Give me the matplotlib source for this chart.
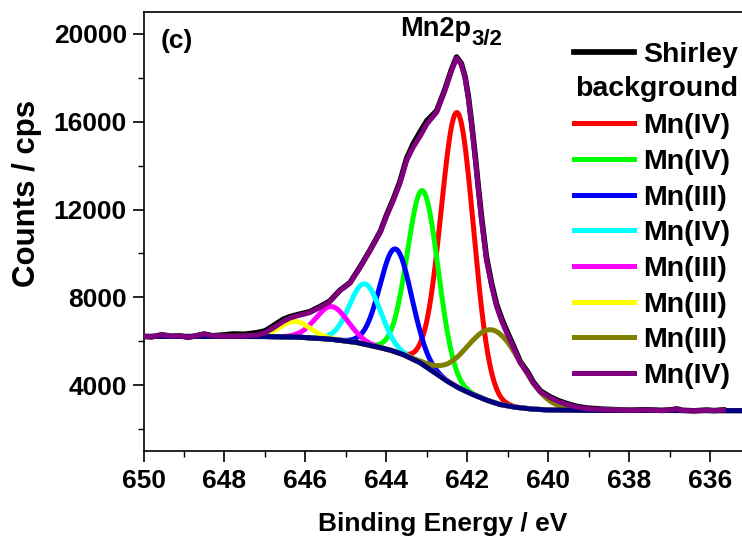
import numpy as np
import matplotlib
matplotlib.use("Agg")
import matplotlib.pyplot as plt
from matplotlib.lines import Line2D

plt.rcParams['font.family'] = ['Liberation Sans', 'DejaVu Sans']
plt.rcParams['font.weight'] = 'bold'

# ---------------- data ----------------
# Measured spectrum (black)
raw_energy = [650.0, 649.8, 649.55, 649.3, 649.1, 648.9, 648.75, 648.5, 648.3, 648.0,
              647.8, 647.5, 647.2, 647.0, 646.8, 646.55, 646.38, 646.2, 645.9, 645.6,
              645.4, 645.15, 644.9, 644.64, 644.4, 644.15, 644.0, 643.83, 643.67, 643.5,
              643.34, 643.15, 643.0, 642.76, 642.56, 642.4, 642.27, 642.15, 642.06, 641.98,
              641.9, 641.8, 641.73, 641.65, 641.53, 641.4, 641.28, 641.15, 641.03, 640.85,
              640.7, 640.5, 640.38, 640.2, 639.96, 639.75, 639.55, 639.3, 639.06, 638.7,
              638.32, 638.0, 637.6, 637.2, 636.95, 636.83, 636.7, 636.4, 636.1, 635.9, 635.68]
raw_counts = [6220, 6200, 6290, 6230, 6250, 6180, 6230, 6330, 6250, 6290,
              6330, 6320, 6390, 6470, 6700, 7000, 7120, 7210, 7340, 7620,
              7830, 8320, 8670, 9420, 10170, 11010, 11740, 12480, 13260, 14340,
              14990, 15600, 16050, 16500, 17460, 18350, 18950, 18650, 18060, 17180,
              15980, 14300, 13000, 11620, 9820, 8600, 7680, 7010, 6480, 5730,
              5090, 4560, 4160, 3740, 3470, 3290, 3160, 3030, 2960, 2910,
              2880, 2860, 2880, 2850, 2880, 2920, 2855, 2830, 2865, 2840, 2870]

# Fitted envelope (purple)
env_energy = raw_energy
env_counts = [6220, 6200, 6290, 6230, 6250, 6180, 6230, 6330, 6250, 6230,
              6230, 6240, 6280, 6380, 6600, 6900, 7060, 7160, 7300, 7580,
              7800, 8300, 8650, 9400, 10150, 10980, 11700, 12420, 13180, 14240,
              14840, 15400, 15900, 16430, 17410, 18300, 18900, 18600, 18010, 17100,
              15900, 14200, 12900, 11500, 9700, 8500, 7580, 6900, 6380, 5650,
              5020, 4500, 4110, 3700, 3430, 3250, 3125, 3000, 2930, 2890,
              2866, 2850, 2870, 2840, 2880, 2920, 2850, 2830, 2860, 2840, 2870]

# Shirley background (navy)
bg_energy = [650.0, 648.0, 647.0, 646.2, 645.4, 644.75, 644.25, 643.9, 643.6, 643.17,
             642.85, 642.5, 642.2, 641.85, 641.5, 641.2, 640.8, 640.4, 640.0, 639.0, 635.2]
bg_counts = [6220, 6220, 6215, 6190, 6100, 5950, 5750, 5590, 5400, 5020,
             4620, 4180, 3860, 3560, 3300, 3120, 2990, 2910, 2870, 2850, 2840]

# Fitted component peaks (above the background)
peak_labels = ['Mn(IV)', 'Mn(IV)', 'Mn(III)', 'Mn(IV)', 'Mn(III)', 'Mn(III)', 'Mn(III)']
peak_center = [642.25, 643.10, 643.77, 644.53, 645.35, 646.26, 641.35]
peak_height = [12500, 7920, 4690, 2750, 1490, 710, 3290]
peak_sigma = [0.40, 0.38, 0.39, 0.38, 0.40, 0.38, 0.68]

envelope_label = 'Mn(IV)'
legend_first = ['Shirley', 'background']
x_ticks = [650, 648, 646, 644, 642, 640, 638, 636]
y_ticks = [4000, 8000, 12000, 16000, 20000]

# ---------------- styles ----------------
peak_colors = ['#ff0000', '#00ff00', '#0000ff', '#00ffff', '#ff00ff', '#ffff00', '#808000']
env_color = '#800080'
bg_color = '#000080'
LW = 3.6

W, H = 742, 540
fig = plt.figure(figsize=(W / 100, H / 100), dpi=100)
ax_left, ax_right, ax_top, ax_bot = 143.5, 742, 12, 451
ax = fig.add_axes([ax_left / W, (H - ax_bot) / H, (ax_right - ax_left) / W, (ax_bot - ax_top) / H])

grid = np.linspace(650, 635.2, 800)
bg_grid = np.interp(grid, bg_energy[::-1], bg_counts[::-1])

ax.plot(raw_energy, raw_counts, color='black', lw=LW + 0.4, zorder=2, solid_joinstyle='round')
for c, h, s, col in zip(peak_center, peak_height, peak_sigma, peak_colors):
    comp = bg_grid + h * np.exp(-0.5 * ((grid - c) / s) ** 2)
    ax.plot(grid, comp, color=col, lw=LW, zorder=3)
ax.plot(bg_energy, bg_counts, color=bg_color, lw=LW, zorder=4, solid_capstyle='round')
ax.plot(env_energy, env_counts, color=env_color, lw=LW, zorder=5, solid_joinstyle='round')

ax.set_xlim(650, 635.22)
ax.set_ylim(1000, 21000)
ax.set_xticks(x_ticks)
ax.set_yticks(y_ticks)
ax.set_xticks(np.arange(649, 635, -2), minor=True)
ax.set_yticks(np.arange(2000, 21000, 4000), minor=True)
ax.tick_params(which='major', direction='out', length=8, width=1.2, labelsize=19, pad=4)
ax.tick_params(which='minor', direction='out', length=4, width=1.0)
ax.tick_params(axis='x', pad=5)
for lab in ax.get_xticklabels() + ax.get_yticklabels():
    lab.set_fontweight('bold')
for sp in ['left', 'bottom', 'top']:
    ax.spines[sp].set_linewidth(1.2)
ax.spines['right'].set_visible(False)

ax.set_xlabel('Binding Energy / eV', fontsize=19, fontweight='bold', labelpad=14)
ax.set_ylabel('Counts / cps', fontsize=22.5, fontweight='bold')
ax.yaxis.set_label_coords((42 - ax_left) / (ax_right - ax_left), (ax_bot - 193) / (ax_bot - ax_top))

# annotations
fig.text(161 / W, 1 - 41 / H, '(c)', fontsize=19, fontweight='bold', va='center', ha='left')
t_main = fig.text(400 / W, 1 - 36 / H, 'Mn2p', fontsize=19.5, fontweight='bold',
                  va='baseline', ha='left')
fig.canvas.draw()
bb = t_main.get_window_extent(renderer=fig.canvas.get_renderer())
fig.text(bb.x1 / W + 0.5 / W, 1 - 45 / H, '3/2', fontsize=16, fontweight='bold',
         va='baseline', ha='left')

# legend
FS = 20.5
handles = [Line2D([], [], color='black', lw=LW + 0.5), Line2D([], [], color='none', lw=0)]
labels = [legend_first[0], 'Mn(IV)']
for col, lab in zip(peak_colors, peak_labels):
    handles.append(Line2D([], [], color=col, lw=LW))
    labels.append(lab)
handles.append(Line2D([], [], color=env_color, lw=LW))
labels.append(envelope_label)
leg = fig.legend(handles, labels, loc='upper left', bbox_to_anchor=(574 / W, 1 - 42 / H),
                 frameon=False, handlelength=2.1, handletextpad=0.32,
                 labelspacing=0.34, borderpad=0, borderaxespad=0,
                 prop={'weight': 'bold', 'size': FS})
leg.get_texts()[1].set_alpha(0)
fig.text(575 / W, 1 - 89 / H, legend_first[1], fontsize=FS, fontweight='bold', va='center', ha='left')

fig.savefig('out.png', dpi=100)
